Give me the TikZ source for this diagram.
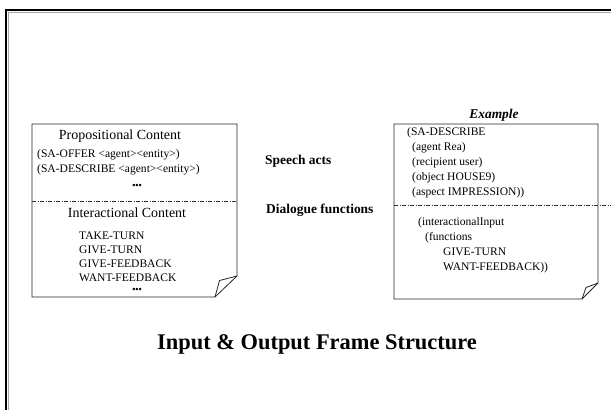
\documentclass[tikz,border=0pt]{standalone}
\usepackage{fontspec}
\setmainfont{Liberation Serif}
\begin{document}
\begin{tikzpicture}[x=1bp,y=-1bp,
  frame/.style={line width=2.4bp,black},
  sheet/.style={draw=black!85,line width=0.8bp},
  divider/.style={draw=black!80,line width=0.7bp,dash pattern=on 4bp off 1.6bp on 0.8bp off 1.6bp},
  item/.style={anchor=mid west,inner sep=0pt,font=\fontsize{11.6}{13}\selectfont},
  heading/.style={anchor=mid,inner sep=0pt,font=\fontsize{14}{16}\selectfont},
  label/.style={anchor=mid west,inner sep=0pt,font=\fontsize{13.5}{16}\selectfont\bfseries},
  dots/.style={anchor=mid,inner sep=0pt,font=\fontsize{9}{10}\selectfont\bfseries}]
\useasboundingbox (0,0) rectangle (611,410);
\fill[white] (0,0) rectangle (611,410);

% slide frame (top and left edges)
\draw[black!35,line width=1bp] (8,12) -- (611,12);
\draw[black!35,line width=1bp] (8,12) -- (8,410);
\draw[frame] (6,10) -- (611,10);
\draw[frame] (6,8.8) -- (6,410);

% left sheet: frame structure
\coordinate (L1) at (32,124);
\coordinate (L2) at (237,124);
\coordinate (L3) at (237,276);
\coordinate (L4) at (215,297);
\coordinate (L5) at (32,297);
\coordinate (Lf) at (219.5,280.5);
\draw[sheet] (L1) -- (L2) -- (L3) -- (L4) -- (L5) -- cycle;
\draw[sheet,line join=round] (L3) -- (Lf) -- (L4);
\draw[divider] (32,201.5) -- (237,201.5);

\node[heading] (pc) at (120,137) {Propositional Content};
\node[item] (offer) at (37,155) {(SA-OFFER <agent><entity>)};
\node[item] (descr) at (37,170) {(SA-DESCRIBE <agent><entity>)};
\node[dots] (dotsa) at (137,186) {•••};
\node[heading] (ic) at (127,215) {Interactional Content};
\node[item] (take) at (79,237) {TAKE-TURN};
\node[item] (give) at (79,251) {GIVE-TURN};
\node[item] (gfb) at (79,265) {GIVE-FEEDBACK};
\node[item] (wfb) at (79,279) {WANT-FEEDBACK};
\node[dots] (dotsb) at (137,290) {•••};

% middle labels
\node[label] (sa) at (265,162) {Speech acts};
\node[label] (df) at (266,211) {Dialogue functions};

% right sheet: example frame
\node[heading,font=\fontsize{13.5}{16}\selectfont\bfseries\itshape] (ex) at (494,116) {Example};
\coordinate (R1) at (394,124);
\coordinate (R2) at (598,124);
\coordinate (R3) at (598,283);
\coordinate (R4) at (582,299);
\coordinate (R5) at (394,299);
\coordinate (Rf) at (586,287.5);
\draw[sheet] (R1) -- (R2) -- (R3) -- (R4) -- (R5) -- cycle;
\draw[sheet,line join=round] (R3) -- (Rf) -- (R4);
\draw[divider] (394,205.5) -- (611,205.5);

\node[item] (r1) at (407,133) {(SA-DESCRIBE};
\node[item] (r2) at (412,148) {(agent Rea)};
\node[item] (r3) at (412,163) {(recipient user)};
\node[item] (r4) at (412,178) {(object HOUSE9)};
\node[item] (r5) at (412,193) {(aspect IMPRESSION))};
\node[item] (r6) at (418,223) {(interactionalInput};
\node[item] (r7) at (425,238) {(functions};
\node[item] (r8) at (443,253) {GIVE-TURN};
\node[item] (r9) at (443,268) {WANT-FEEDBACK))};

% title
\node[anchor=mid,inner sep=0pt,font=\fontsize{22.5}{26}\selectfont\bfseries] (title) at (317,347) {Input \& Output Frame Structure};
\end{tikzpicture}
\end{document}
